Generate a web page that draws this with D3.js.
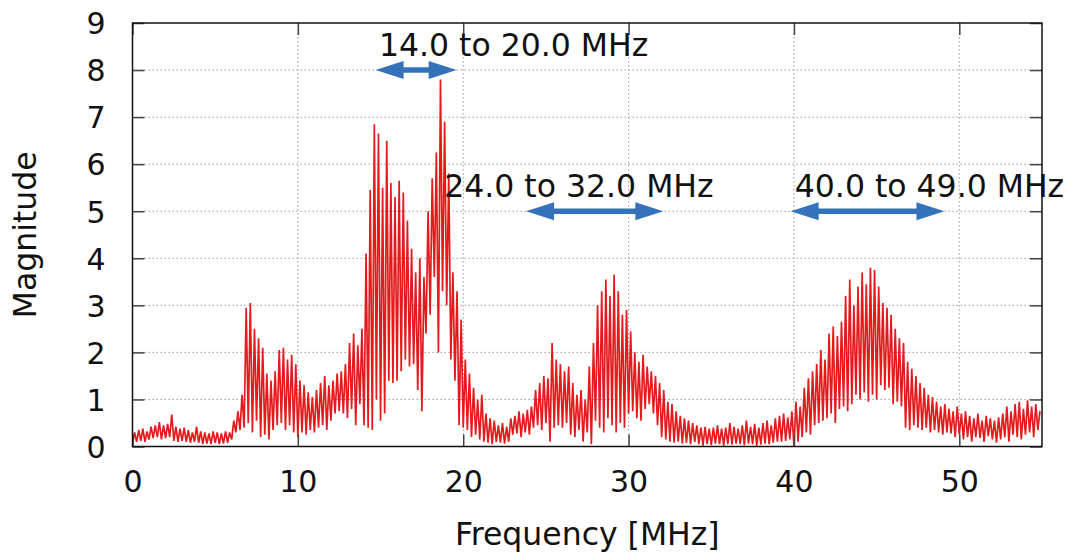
<!DOCTYPE html>
<html>
<head>
<meta charset="utf-8">
<script src="https://cdn.jsdelivr.net/npm/d3@7"></script>
<style>
  body { margin: 0; background: #fff; }
  text { font-family: "DejaVu Sans", sans-serif; fill: #111; }
</style>
</head>
<body>
<div id="chart"></div>
<script>
// spectrum: per 0.25 MHz bin, the highest and lowest magnitude
const binStart = 0;
const binStep = 0.25;
const magHigh = [
  .30,.35,.38,.32,.42,.45,.52,.45,   // 0-2
  .48,.68,.42,.38,.40,.35,.30,.42,   // 2-4
  .32,.30,.28,.32,.30,.28,.32,.30,   // 4-6
  .55,.75,1.10,2.95,3.05,2.50,2.30,2.10,   // 6-8
  1.55,1.40,1.60,2.05,2.10,1.85,1.95,1.75, // 8-10
  1.40,1.30,1.15,1.05,1.20,1.35,1.50,1.30, // 10-12
  1.40,1.55,1.60,1.75,2.20,2.40,2.15,2.50, // 12-14
  4.10,5.45,6.85,6.65,5.50,6.50,5.60,5.30, // 14-16
  5.65,5.40,4.80,4.20,3.70,4.00,3.60,5.00, // 16-18
  5.70,6.25,7.80,6.90,5.80,3.70,3.30,2.70, // 18-20
  1.85,1.55,1.25,1.00,1.10,.70,.60,.55,    // 20-22
  .45,.50,.42,.60,.65,.75,.70,.78,         // 22-24
  .85,1.20,1.35,1.50,1.45,2.20,1.85,1.75,  // 24-26
  1.60,1.70,1.35,1.10,1.20,1.00,1.70,2.20, // 26-28
  3.00,3.30,3.55,3.20,3.65,3.30,2.80,2.90, // 28-30
  2.45,2.00,1.80,1.95,1.70,1.60,1.50,1.35, // 30-32
  1.20,.95,.90,.75,.65,.60,.55,.50,        // 32-34
  .45,.40,.42,.38,.40,.45,.38,.40,         // 34-36
  .50,.42,.38,.45,.55,.42,.48,.40,         // 36-38
  .50,.55,.45,.60,.65,.70,.62,.75,         // 38-40
  .95,.85,1.25,1.45,1.60,1.75,2.05,1.85,   // 40-42
  2.40,2.55,2.35,2.65,3.20,3.55,3.00,3.40, // 42-44
  3.70,3.45,3.80,3.75,3.40,3.05,2.95,2.80, // 44-46
  2.50,2.30,2.20,1.80,1.65,1.50,1.35,1.25, // 46-48
  1.10,1.05,.95,.85,.90,.80,.75,.85,       // 48-50
  .70,.75,.65,.60,.70,.55,.65,.60,         // 50-52
  .55,.62,.70,.85,.75,.90,.95,.80,         // 52-54
  .98,.85,.90,.75                          // 54-55
];
const magLow = [
  .05,.10,.12,.10,.15,.18,.20,.15,
  .18,.20,.12,.10,.12,.10,.08,.10,
  .08,.05,.06,.05,.08,.05,.06,.08,
  .15,.30,.35,.40,.50,.30,.55,.20,
  .25,.15,.35,.45,.50,.35,.45,.30,
  .20,.30,.25,.35,.30,.40,.45,.35,
  .55,.70,.75,.70,.60,.80,.45,.90,
  .45,.40,.35,1.00,.55,.70,1.40,1.35,
  1.40,1.60,1.85,1.70,1.75,1.20,.75,2.40,
  2.80,3.60,2.00,3.30,3.00,1.85,1.40,.45,
  .40,.35,.20,.25,.15,.10,.08,.05,
  .10,.08,.06,.10,.25,.28,.20,.30,
  .25,.40,.45,.35,.50,.10,.40,.45,
  .40,.50,.25,.20,.35,.10,.30,.05,
  .55,.40,.30,.60,.45,.30,.50,.40,
  .70,.75,.60,.55,.80,.90,.70,.45,
  .20,.15,.10,.08,.10,.06,.08,.05,
  .10,.05,.02,.05,.03,.06,.05,.02,
  .05,.04,.06,.05,.03,.06,.05,.02,
  .04,.06,.05,.08,.10,.10,.12,.15,
  .00,.10,.20,.30,.25,.45,.50,.55,
  .60,.70,.50,.80,.85,.75,.90,1.10,
  1.00,1.15,.95,1.10,1.00,1.30,1.20,1.25,
  .90,.95,.85,.40,.35,.45,.40,.35,
  .40,.30,.35,.30,.25,.30,.28,.20,
  .25,.15,.20,.10,.20,.18,.10,.22,
  .15,.08,.15,.20,.10,.25,.20,.15,
  .25,.30,.20,.35
];
const xTicks = [0, 10, 20, 30, 40, 50];
const yTicks = [0, 1, 2, 3, 4, 5, 6, 7, 8, 9];
const bandArrows = [
  {from: 14.7, to: 19.6, level: 8},
  {from: 23.8, to: 32.1, level: 5},
  {from: 39.8, to: 49.1, level: 5}
];
const bandLabels = [
  {text: "14.0 to 20.0 MHz", freq: 14.9, mag: 8.3},
  {text: "24.0 to 32.0 MHz", freq: 18.85, mag: 5.3},
  {text: "40.0 to 49.0 MHz", freq: 40.05, mag: 5.3}
];

const width = 1068, height = 556;
const margin = {top: 23, right: 26, bottom: 109.5, left: 132.5};

const svg = d3.select("#chart").append("svg")
  .attr("width", width)
  .attr("height", height);

const x = d3.scaleLinear().domain([0, 55]).range([margin.left, width - margin.right]);
const y = d3.scaleLinear().domain([0, 9]).range([height - margin.bottom, margin.top]);

// grid
const grid = svg.append("g")
  .attr("stroke", "#9a9a9a")
  .attr("stroke-width", 1)
  .attr("stroke-dasharray", "1.5,2.5");
grid.selectAll(".gx").data(xTicks.filter(d => d > 0)).enter().append("line")
  .attr("x1", d => x(d)).attr("x2", d => x(d))
  .attr("y1", y(0)).attr("y2", y(9));
grid.selectAll(".gy").data(yTicks.filter(d => d > 0 && d < 9)).enter().append("line")
  .attr("y1", d => y(d)).attr("y2", d => y(d))
  .attr("x1", x(0)).attr("x2", x(55));

// trace: each bin goes down to its low and up to its high
const points = [];
magHigh.forEach((hi, i) => {
  const f = binStart + i * binStep;
  points.push([f, magLow[i]]);
  points.push([f + binStep / 2, hi]);
});

svg.append("clipPath").attr("id", "plotclip")
  .append("rect")
  .attr("x", x(0)).attr("y", y(9))
  .attr("width", x(55) - x(0)).attr("height", y(0) - y(9));

const line = d3.line().x(d => x(d[0])).y(d => y(d[1]));
svg.append("path")
  .datum(points)
  .attr("clip-path", "url(#plotclip)")
  .attr("fill", "none")
  .attr("stroke", "#e41a1c")
  .attr("stroke-width", 1.7)
  .attr("stroke-linejoin", "bevel")
  .attr("d", line);

// axes, ticks pointing inward, mirrored
const fmt = d3.format("d");
const gx = svg.append("g")
  .attr("transform", `translate(0,${y(0)})`)
  .call(d3.axisBottom(x).tickValues(xTicks).tickSize(-12).tickPadding(24).tickFormat(fmt));
const gy = svg.append("g")
  .attr("transform", `translate(${x(0)},0)`)
  .call(d3.axisLeft(y).tickValues(yTicks).tickSize(-12).tickPadding(27).tickFormat(fmt));
const gt = svg.append("g")
  .attr("transform", `translate(0,${y(9)})`)
  .call(d3.axisTop(x).tickValues(xTicks).tickSize(-12).tickFormat(""));
const gr = svg.append("g")
  .attr("transform", `translate(${x(55)},0)`)
  .call(d3.axisRight(y).tickValues(yTicks).tickSize(-12).tickFormat(""));

[gx, gy, gt, gr].forEach(g => {
  g.select(".domain").remove();
  g.selectAll(".tick line").attr("stroke", "#444").attr("stroke-width", 1.5);
  g.selectAll(".tick text").attr("font-size", 30).attr("font-family", "DejaVu Sans").attr("fill", "#111");
});
gy.selectAll(".tick text").attr("dy", "0.36em");

svg.append("rect")
  .attr("x", x(0)).attr("y", y(9))
  .attr("width", x(55) - x(0)).attr("height", y(0) - y(9))
  .attr("fill", "none")
  .attr("stroke", "#111")
  .attr("stroke-width", 1.5);

// axis titles
svg.append("text")
  .attr("x", (x(0) + x(55)) / 2)
  .attr("y", 545)
  .attr("text-anchor", "middle")
  .attr("font-size", 31.5)
  .text("Frequency [MHz]");
svg.append("text")
  .attr("transform", `translate(36,${(y(0) + y(9)) / 2}) rotate(-90)`)
  .attr("text-anchor", "middle")
  .attr("font-size", 31.5)
  .text("Magnitude");

// double-headed arrows marking the bands
const headLen = 28, headHalf = 9, shaftHalf = 2.8;
svg.append("g").selectAll("path").data(bandArrows).enter().append("path")
  .attr("fill", "#3473ba")
  .attr("d", d => {
    const x1 = x(d.from), x2 = x(d.to), yy = y(d.level);
    return `M${x1},${yy}` +
      `L${x1 + headLen},${yy - headHalf}L${x1 + headLen},${yy - shaftHalf}` +
      `L${x2 - headLen},${yy - shaftHalf}L${x2 - headLen},${yy - headHalf}` +
      `L${x2},${yy}` +
      `L${x2 - headLen},${yy + headHalf}L${x2 - headLen},${yy + shaftHalf}` +
      `L${x1 + headLen},${yy + shaftHalf}L${x1 + headLen},${yy + headHalf}Z`;
  });

svg.append("g").selectAll("text").data(bandLabels).enter().append("text")
  .attr("x", d => x(d.freq))
  .attr("y", d => y(d.mag))
  .attr("font-size", 31.5)
  .text(d => d.text);
</script>
</body>
</html>
